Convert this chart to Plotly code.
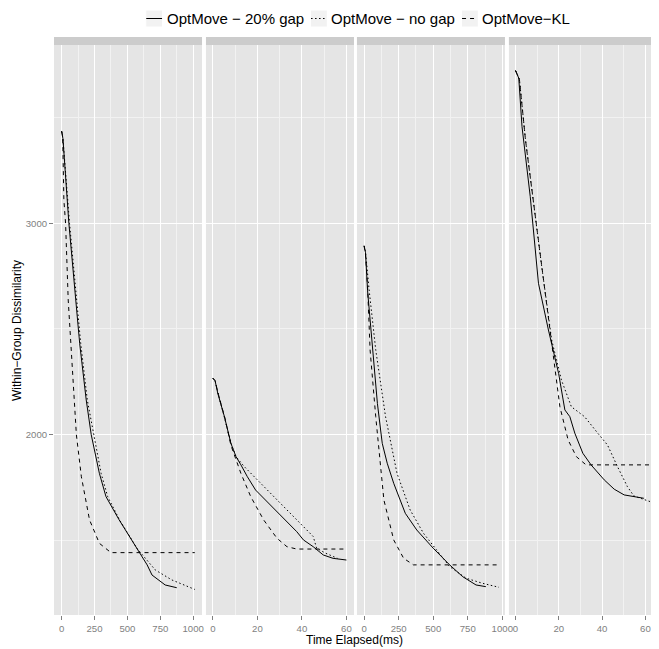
import plotly.graph_objects as go

# ---------------- data ----------------
series_names = ["OptMove − 20% gap", "OptMove − no gap", "OptMove−KL"]

# panel 1 (x in ms, 0..1000)
p1_solid_t = [0, 10, 55, 137, 187, 225, 287, 337, 437, 575, 650, 687, 787, 875]
p1_solid_v = [3435, 3400, 3000, 2432, 2164, 2000, 1817, 1707, 1597, 1455, 1384, 1336, 1289, 1276]
p1_dot_t = [0, 10, 60, 145, 195, 242, 300, 350, 440, 575, 712, 837, 1012]
p1_dot_v = [3435, 3400, 3000, 2432, 2164, 2000, 1817, 1707, 1597, 1460, 1360, 1313, 1268]
p1_dash_t = [0, 8, 17, 30, 50, 87, 112, 150, 212, 287, 375, 1012]
p1_dash_v = [3435, 3410, 3110, 3000, 2637, 2227, 2000, 1801, 1597, 1486, 1442, 1442]

# panel 2 (x 0..60)
p2_solid_t = [0, 1, 2.2, 5.2, 8.1, 10.4, 12.6, 15.5, 19.2, 24.4, 28.8, 33.3, 37.7, 40.7, 45.1, 49.6, 54, 60]
p2_solid_v = [2267, 2255, 2196, 2085, 1959, 1896, 1857, 1801, 1738, 1683, 1636, 1589, 1541, 1502, 1470, 1431, 1415, 1407]
p2_dot_t = [0, 1, 2.5, 5.5, 8.3, 10.4, 14.1, 20, 27.4, 34.8, 40.7, 45.1, 46.6, 50.5, 56]
p2_dot_v = [2267, 2255, 2190, 2075, 1955, 1896, 1849, 1786, 1707, 1628, 1565, 1518, 1463, 1440, 1415]
p2_dash_t = [0, 1, 2.5, 5.5, 8.1, 10.4, 12.6, 17, 22.8, 28.8, 33.3, 37.7, 59.6]
p2_dash_v = [2267, 2255, 2190, 2075, 1950, 1880, 1817, 1707, 1597, 1510, 1470, 1459, 1459]

# panel 3 (x in ms, 0..1000)
p3_solid_t = [0, 10, 25, 60, 96, 131, 167, 214, 298, 381, 500, 619, 714, 810, 881]
p3_solid_v = [2893, 2860, 2680, 2401, 2148, 1959, 1865, 1770, 1628, 1549, 1463, 1384, 1328, 1289, 1281]
p3_dot_t = [0, 10, 36, 84, 155, 238, 333, 429, 524, 619, 738, 857, 976]
p3_dot_v = [2893, 2865, 2685, 2401, 2085, 1817, 1644, 1534, 1455, 1376, 1321, 1297, 1278]
p3_dash_t = [0, 10, 25, 43, 84, 143, 214, 286, 357, 976]
p3_dash_v = [2893, 2850, 2700, 2401, 2085, 1691, 1502, 1415, 1384, 1384]

# panel 4 (x 0..60)
p4_solid_t = [0, 1.5, 3, 6.8, 10.6, 15.2, 19.9, 22.8, 25.1, 27.4, 31.1, 34.9, 41, 45.6, 50.2, 54.7, 59.3]
p4_solid_v = [3722, 3686, 3457, 3126, 2716, 2495, 2290, 2117, 2085, 2007, 1912, 1857, 1786, 1742, 1715, 1707, 1699]
p4_dot_t = [0, 1.8, 4.6, 9.1, 12.1, 16.7, 21.2, 25.8, 31.9, 38, 42.5, 47.1, 51.7, 54.7, 62.3]
p4_dot_v = [3722, 3680, 3394, 3031, 2795, 2448, 2259, 2132, 2085, 2007, 1951, 1849, 1754, 1710, 1683]
p4_dash_t = [0, 1.8, 4.6, 9.1, 12.1, 16.2, 17.4, 20.5, 24.3, 28.1, 32.6, 62]
p4_dash_v = [3722, 3680, 3394, 3031, 2795, 2464, 2369, 2132, 1975, 1896, 1857, 1857]

panel_ticks = [250, 20, 250, 20]

# ---------------- figure ----------------
# the page body has an 8px default margin, so the figure is 8px smaller
BODY = 8
W, H = 659 - BODY, 649 - BODY
ML, MR, MT, MB = 54 - BODY, 0, 37 - BODY, 34
PW = W - ML - MR
PH = H - MT - MB


def fx(px):  # page pixel -> paper fraction
    return (px - BODY - ML) / PW


def fy(py):
    return (H - MB - (py - BODY)) / PH


panel_px = [(54, 204), (208, 358), (361, 511), (515, 659)]
x_ranges = [[-58, 1067], [-3.1, 63.4], [-52.1, 1019.3], [-3.06, 62.6]]
y_range = [1147, 3843]
panel_top = 45

dash_styles = ["solid", "1.5px,2.5px", "4px,4px"]
FONT = "Liberation Sans, Arial, Helvetica, sans-serif"

data = [
    [(p1_solid_t, p1_solid_v), (p1_dot_t, p1_dot_v), (p1_dash_t, p1_dash_v)],
    [(p2_solid_t, p2_solid_v), (p2_dot_t, p2_dot_v), (p2_dash_t, p2_dash_v)],
    [(p3_solid_t, p3_solid_v), (p3_dot_t, p3_dot_v), (p3_dash_t, p3_dash_v)],
    [(p4_solid_t, p4_solid_v), (p4_dot_t, p4_dot_v), (p4_dash_t, p4_dash_v)],
]

fig = go.Figure()
for i, panel in enumerate(data):
    suffix = "" if i == 0 else str(i + 1)
    for j, (t, v) in enumerate(panel):
        fig.add_trace(go.Scatter(
            x=t, y=v, mode="lines", name=series_names[j],
            line=dict(color="black", width=1, dash=dash_styles[j]),
            xaxis="x" + suffix, yaxis="y" + suffix, showlegend=False,
        ))

layout = dict(
    width=W, height=H,
    margin=dict(l=ML, r=MR, t=MT, b=MB, pad=0),
    paper_bgcolor="white", plot_bgcolor="#E5E5E5",
    font=dict(family=FONT, color="black"),
    showlegend=False,
)
ydom = [0, fy(panel_top)]
for i in range(4):
    suffix = "" if i == 0 else str(i + 1)
    x0, x1 = panel_px[i]
    layout["xaxis" + suffix] = dict(
        domain=[fx(x0), fx(x1)], range=x_ranges[i], anchor="y" + suffix,
        tickmode="linear", tick0=0, dtick=panel_ticks[i],
        showgrid=True, gridcolor="white", gridwidth=1.1, zeroline=False,
        minor=dict(tick0=0, dtick=panel_ticks[i] / 2, showgrid=True,
                   gridcolor="#F2F2F2", gridwidth=0.55, ticks=""),
        ticks="outside", ticklen=4, tickwidth=1, tickcolor="#7F7F7F",
        tickfont=dict(size=9.6, color="#7F7F7F", family=FONT),
        showline=False, fixedrange=True,
    )
    layout["yaxis" + suffix] = dict(
        domain=ydom, range=y_range, anchor="x" + suffix,
        tickmode="linear", tick0=0, dtick=1000,
        showgrid=True, gridcolor="white", gridwidth=1.1, zeroline=False,
        minor=dict(tick0=0, dtick=500, showgrid=True,
                   gridcolor="#F2F2F2", gridwidth=0.55, ticks=""),
        ticks="outside" if i == 0 else "", ticklen=4, tickwidth=1, tickcolor="#7F7F7F",
        showticklabels=(i == 0),
        tickfont=dict(size=9.6, color="#7F7F7F", family=FONT),
        showline=False, fixedrange=True,
    )
fig.update_layout(**layout)

shapes = []
# facet strips
for x0, x1 in panel_px:
    shapes.append(dict(type="rect", xref="paper", yref="paper",
                       x0=fx(x0), x1=fx(x1), y0=fy(panel_top), y1=fy(37),
                       fillcolor="#CCCCCC", line=dict(width=0), layer="below"))

# legend keys
legend_keys = [(147, 164), (314, 331), (467, 484)]
legend_text_x = [167, 334, 487]
LEG_Y = 18.5
annotations = []
for j, (k0, k1) in enumerate(legend_keys):
    shapes.append(dict(type="rect", xref="paper", yref="paper",
                       x0=fx(k0), x1=fx(k1), y0=fy(LEG_Y + 8.5), y1=fy(LEG_Y - 8.5),
                       fillcolor="#F2F2F2", line=dict(color="white", width=1)))
    shapes.append(dict(type="line", xref="paper", yref="paper",
                       x0=fx(k0 + 0.5), x1=fx(k1 - 0.5), y0=fy(LEG_Y), y1=fy(LEG_Y),
                       line=dict(color="black", width=1, dash=dash_styles[j])))
    annotations.append(dict(xref="paper", yref="paper", x=fx(legend_text_x[j]), y=fy(LEG_Y),
                            text=series_names[j], showarrow=False, xanchor="left",
                            yanchor="middle", borderpad=0,
                            font=dict(size=15, color="black", family=FONT)))

annotations.append(dict(xref="paper", yref="paper", x=fx(359), y=fy(640),
                        text="Time Elapsed(ms)", showarrow=False, xanchor="center",
                        yanchor="middle", font=dict(size=12, color="black", family=FONT)))
annotations.append(dict(xref="paper", yref="paper", x=fx(16.5), y=fy(330),
                        text="Within−Group Dissimilarity", showarrow=False, textangle=-90,
                        xanchor="center", yanchor="middle",
                        font=dict(size=12, color="black", family=FONT)))

fig.update_layout(shapes=shapes, annotations=annotations)
fig.write_html("out.html")
